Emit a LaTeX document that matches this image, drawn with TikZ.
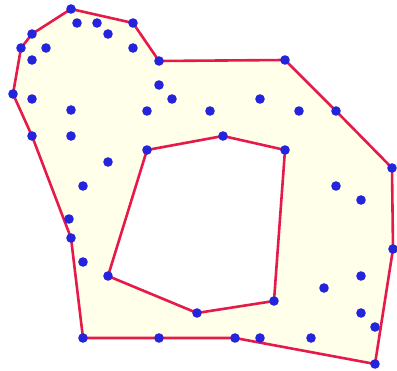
\documentclass[tikz,border=0pt]{standalone}
\definecolor{fillyel}{HTML}{FFFFEA}
\definecolor{edgered}{HTML}{E5194A}
\definecolor{dotblue}{HTML}{2424DD}
\tikzset{
  pt/.style={circle, fill=dotblue, inner sep=0pt, minimum size=9.6pt},
  edge/.style={draw=edgered, line width=2.6pt, line join=round}
}
\begin{document}
\begin{tikzpicture}[x=1pt,y=-1pt]
\useasboundingbox (0,0) rectangle (397,371);
\foreach \n/\x/\y in {
 1/71/9, 2/77/23, 3/97/23, 4/133/23, 5/108/34, 6/32/34, 7/21/48, 8/46/48,
 9/32/60, 10/133/48, 11/159/61, 12/159/85, 13/172/99, 14/13/94, 15/32/99,
 16/71/110, 17/147/111, 18/32/136, 19/71/136, 20/147/150, 21/108/162,
 22/83/186, 23/285/60, 24/260/99, 25/210/111, 26/299/111, 27/336/111,
 28/223/136, 29/285/150, 30/392/168, 31/336/186, 32/69/219, 33/71/238,
 34/83/262, 35/108/276, 36/83/338, 37/159/338, 38/197/313, 39/361/200,
 40/393/249, 41/361/276, 42/324/288, 43/274/301, 44/361/313, 45/375/327,
 46/235/338, 47/260/338, 48/311/338, 49/375/364}
 \coordinate (c\n) at (\x,\y);
\fill[fillyel, even odd rule]
 (c1) -- (c4) -- (c11) -- (c23) -- (c27) -- (c30) -- (c40) -- (c49) -- (c46) -- (c36) -- (c33) -- (c18) -- (c14) -- (c7) -- (c6) -- cycle
 (c20) -- (c28) -- (c29) -- (c43) -- (c38) -- (c35) -- cycle;
\draw[edge] (c1) -- (c4) -- (c11) -- (c23) -- (c27) -- (c30) -- (c40) -- (c49) -- (c46) -- (c36) -- (c33) -- (c18) -- (c14) -- (c7) -- (c6) -- cycle;
\draw[edge] (c20) -- (c28) -- (c29) -- (c43) -- (c38) -- (c35) -- cycle;
\foreach \n in {1,...,49}
 \node[pt] (p\n) at (c\n) {};
\end{tikzpicture}
\end{document}
